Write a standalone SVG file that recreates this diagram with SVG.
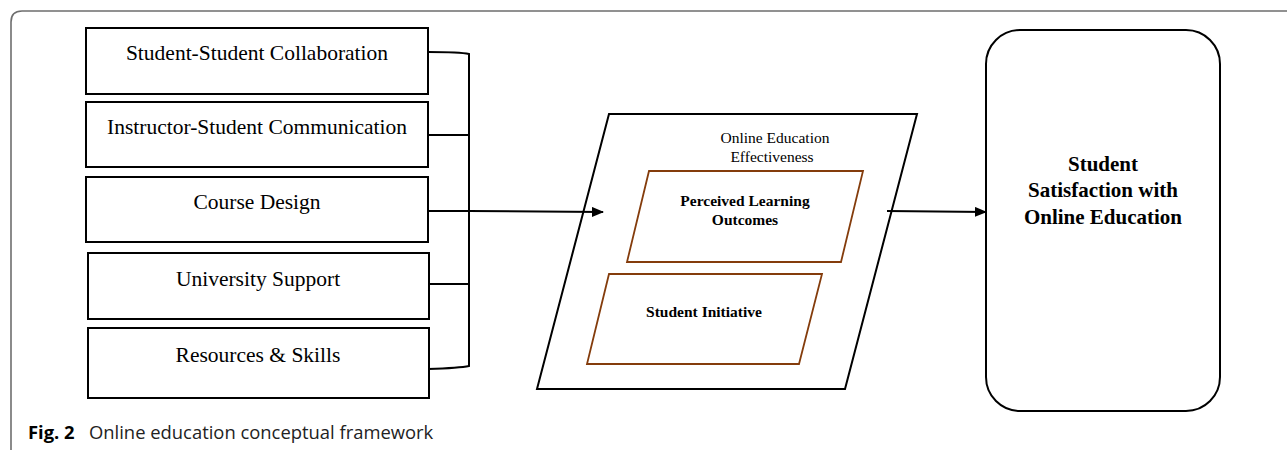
<svg xmlns="http://www.w3.org/2000/svg" width="1287" height="450" viewBox="0 0 1287 450">
<style>
.frame{fill:none;stroke:#6e6e6e;stroke-width:1.6}
.box{fill:#fff;stroke:#000;stroke-width:2}
.para{fill:#fff;stroke:#000;stroke-width:2}
.inner{fill:#fff;stroke:#843c0c;stroke-width:1.8}
.conn{fill:none;stroke:#000;stroke-width:2}
.t{font-family:"Liberation Serif","Times New Roman",serif;fill:#000;text-anchor:middle}
.lbl{font-size:21.5px}
.b{font-weight:bold}
.cap{font-family:"Open Sans","Noto Sans",sans-serif;font-size:18.4px;fill:#222}
</style>
<defs>
<marker id="ah" markerWidth="12" markerHeight="10" refX="11" refY="5" orient="auto" markerUnits="userSpaceOnUse">
<path d="M0,0 L12,5 L0,10 Z" fill="#000"/>
</marker>
</defs>
<path class="frame" d="M11,450 L11,22 Q11,11 22,11 L1287,11"/>
<g id="n1"><rect class="box" x="86" y="28" width="342" height="66"/><text class="t lbl" x="257" y="60">Student-Student Collaboration</text></g>
<g id="n2"><rect class="box" x="86" y="102" width="342" height="65"/><text class="t lbl" x="257" y="134">Instructor-Student Communication</text></g>
<g id="n3"><rect class="box" x="86" y="177" width="342" height="65"/><text class="t lbl" x="257" y="209">Course Design</text></g>
<g id="n4"><rect class="box" x="88" y="253" width="341" height="66"/><text class="t lbl" x="258" y="286">University Support</text></g>
<g id="n5"><rect class="box" x="88" y="328" width="341" height="70"/><text class="t lbl" x="258" y="362">Resources &amp; Skills</text></g>
<g id="n6">
<polygon class="para" points="609,114 917,114 845,389 537,389"/>
<text class="t" style="font-size:15.5px" x="775" y="143">Online Education</text>
<text class="t" style="font-size:15.5px" x="772" y="162">Effectiveness</text>
</g>
<g id="n7">
<polygon class="inner" points="649,171 863,171 841,262 627,262"/>
<text class="t b" style="font-size:15.5px" x="745" y="206">Perceived Learning</text>
<text class="t b" style="font-size:15.5px" x="745" y="225">Outcomes</text>
</g>
<g id="n8">
<polygon class="inner" points="609,274 822,274 799,364 587,364"/>
<text class="t b" style="font-size:15.5px" x="704" y="317">Student Initiative</text>
</g>
<g id="n9">
<rect class="box" x="986" y="30" width="234" height="381" rx="34" ry="34"/>
<text class="t b" style="font-size:21px" x="1103" y="171">Student</text>
<text class="t b" style="font-size:21px" x="1103" y="197">Satisfaction with</text>
<text class="t b" style="font-size:21px" x="1103" y="224">Online Education</text>
</g>
<g id="connectors">
<path class="conn" d="M428,52 Q460,52 469,54 L469,366 Q460,368 428,369"/>
<path class="conn" d="M428,135 L469,135"/>
<path class="conn" d="M428,284 L469,284"/>
<path class="conn" d="M428,211 L469,211 L603,212" marker-end="url(#ah)"/>
<path class="conn" d="M887,211 L986,212" marker-end="url(#ah)"/>
</g>
<text class="cap" x="28" y="439"><tspan font-weight="bold" fill="#000">Fig. 2</tspan><tspan x="89">Online education conceptual framework</tspan></text>
</svg>
